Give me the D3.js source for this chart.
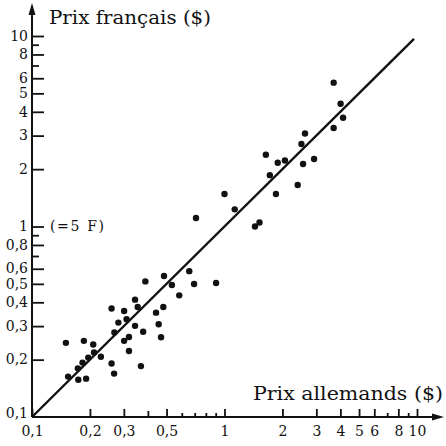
<!DOCTYPE html>
<html>
<head>
<meta charset="utf-8">
<script src="https://cdnjs.cloudflare.com/ajax/libs/d3/7.8.5/d3.min.js"></script>
<style>
  body { margin: 0; background: #fff; }
  text { font-family: "DejaVu Serif", serif; fill: #111; }
</style>
</head>
<body>
<svg width="446" height="446"></svg>
<script>
// prix allemands ($) / prix français ($)
let germanPrices = [0.150, 0.186, 0.208, 0.210, 0.228, 0.196, 0.183, 0.173, 0.154, 0.174,
                    0.191, 0.259, 0.281, 0.301, 0.310, 0.268, 0.301, 0.319, 0.343, 0.354,
                    0.378, 0.319, 0.259, 0.267, 0.368, 0.343, 0.441, 0.455, 0.468, 0.481,
                    0.388, 0.485, 0.533, 0.582, 0.656, 0.695, 0.904, 0.711, 1.00, 1.13,
                    1.44, 1.52, 1.64, 1.72, 1.85, 1.89, 2.06, 2.40, 2.51, 2.56,
                    2.62, 2.92, 3.69, 3.69, 4.01, 4.13];
let frenchPrices = [0.245, 0.251, 0.240, 0.218, 0.207, 0.205, 0.193, 0.180, 0.163, 0.157,
                    0.159, 0.371, 0.313, 0.360, 0.326, 0.278, 0.251, 0.263, 0.301, 0.378,
                    0.280, 0.222, 0.191, 0.169, 0.185, 0.413, 0.353, 0.307, 0.262, 0.378,
                    0.515, 0.550, 0.493, 0.435, 0.583, 0.499, 0.505, 1.108, 1.48, 1.23,
                    1.00, 1.05, 2.38, 1.86, 1.48, 2.16, 2.22, 1.65, 2.71, 2.13,
                    3.08, 2.26, 5.69, 3.29, 4.41, 3.72];

let xMajor = [0.1, 0.2, 0.3, 0.4, 0.5, 1, 2, 3, 4, 5, 6, 8, 10];
let xLabels = ['0,1', '0,2', '0,3', '', '0,5', '1', '2', '3', '4', '5', '6', '8', '10'];
let xMinor = [0.6, 0.7, 0.8, 0.9, 7, 9];

let yMajor = [0.1, 0.2, 0.3, 0.4, 0.5, 0.6, 0.8, 1, 2, 3, 4, 5, 6, 8, 10];
let yLabels = ['0,1', '0,2', '0,3', '0,4', '0,5', '0,6', '0,8', '1', '2', '3', '4', '5', '6', '8', '10'];
let yMinor = [0.7, 0.9, 7, 9];

let lineEnd = 9.65;

let svg = d3.select('svg');

let xScale = d3.scaleLog().domain([0.1, 10]).range([32, 417]);
let yScale = d3.scaleLog().domain([0.1, 10]).range([417, 36]);

let x0 = xScale(0.1), y0 = yScale(0.1);

// ticks
let xAxis = d3.axisBottom(xScale)
              .tickValues(xMajor)
              .tickSize(-8)
              .tickPadding(7)
              .tickFormat((d, i) => xLabels[i]);
let gx = svg.append('g')
    .attr('transform', `translate(0,${y0})`)
    .call(xAxis);
gx.select('.domain').remove();
gx.selectAll('.tick line').attr('stroke', '#111').attr('stroke-width', 1.8);
gx.selectAll('.tick text').style('font-size', '14px').attr('dy', '0.85em');
gx.selectAll('.tick').filter(d => d == 0.4).select('line').attr('y2', -6);

let gxm = svg.append('g')
    .attr('transform', `translate(0,${y0})`)
    .call(d3.axisBottom(xScale).tickValues(xMinor).tickSize(-4).tickFormat(''));
gxm.select('.domain').remove();
gxm.selectAll('.tick line').attr('stroke', '#111').attr('stroke-width', 1.8);

let yAxis = d3.axisLeft(yScale)
              .tickValues(yMajor)
              .tickSize(-12)
              .tickPadding(4)
              .tickFormat((d, i) => yLabels[i]);
let gy = svg.append('g')
    .attr('transform', `translate(${x0},0)`)
    .call(yAxis);
gy.select('.domain').remove();
gy.selectAll('.tick line').attr('stroke', '#111').attr('stroke-width', 1.8);
gy.selectAll('.tick text').style('font-size', '14px').attr('dy', '0.3em')
  .attr('y', d => d == 0.1 ? -4 : 0);
gy.selectAll('.tick').filter(d => d == 0.1).select('line').remove();

let gym = svg.append('g')
    .attr('transform', `translate(${x0},0)`)
    .call(d3.axisLeft(yScale).tickValues(yMinor).tickSize(-7).tickFormat(''));
gym.select('.domain').remove();
gym.selectAll('.tick line').attr('stroke', '#111').attr('stroke-width', 1.8);

// axes with arrows
svg.append('line')
    .attr('x1', x0).attr('y1', y0)
    .attr('x2', x0).attr('y2', 10)
    .attr('stroke', '#111').attr('stroke-width', 2);
svg.append('path')
    .attr('d', `M${x0},3 L${x0 - 3.5},15 L${x0 + 3.5},15 Z`)
    .attr('fill', '#111');
svg.append('line')
    .attr('x1', x0).attr('y1', y0)
    .attr('x2', 437).attr('y2', y0)
    .attr('stroke', '#111').attr('stroke-width', 2);
svg.append('path')
    .attr('d', `M444,${y0} L432,${y0 - 3.5} L432,${y0 + 3.5} Z`)
    .attr('fill', '#111');

// diagonal y = x
svg.append('line')
    .attr('x1', xScale(0.1)).attr('y1', yScale(0.1))
    .attr('x2', xScale(lineEnd)).attr('y2', yScale(lineEnd))
    .attr('stroke', '#111')
    .attr('stroke-width', 2.4);

// points
svg.selectAll('circle')
    .data(germanPrices)
    .enter()
    .append('circle')
    .attr('cx', d => xScale(d))
    .attr('cy', (d, i) => yScale(frenchPrices[i]))
    .attr('r', 3.2)
    .attr('fill', '#111');

// titles
svg.append('text')
    .attr('x', 49)
    .attr('y', 24)
    .style('font-size', '19px')
    .attr('textLength', 162)
    .attr('lengthAdjust', 'spacingAndGlyphs')
    .text('Prix français ($)');

svg.append('text')
    .attr('x', 253)
    .attr('y', 400)
    .style('font-size', '19px')
    .attr('textLength', 190)
    .attr('lengthAdjust', 'spacingAndGlyphs')
    .text('Prix allemands ($)');

svg.append('text')
    .attr('x', 50)
    .attr('y', yScale(1))
    .attr('dy', '0.3em')
    .style('font-size', '14px')
    .attr('textLength', 54)
    .text('(=5 F)');
</script>
</body>
</html>
